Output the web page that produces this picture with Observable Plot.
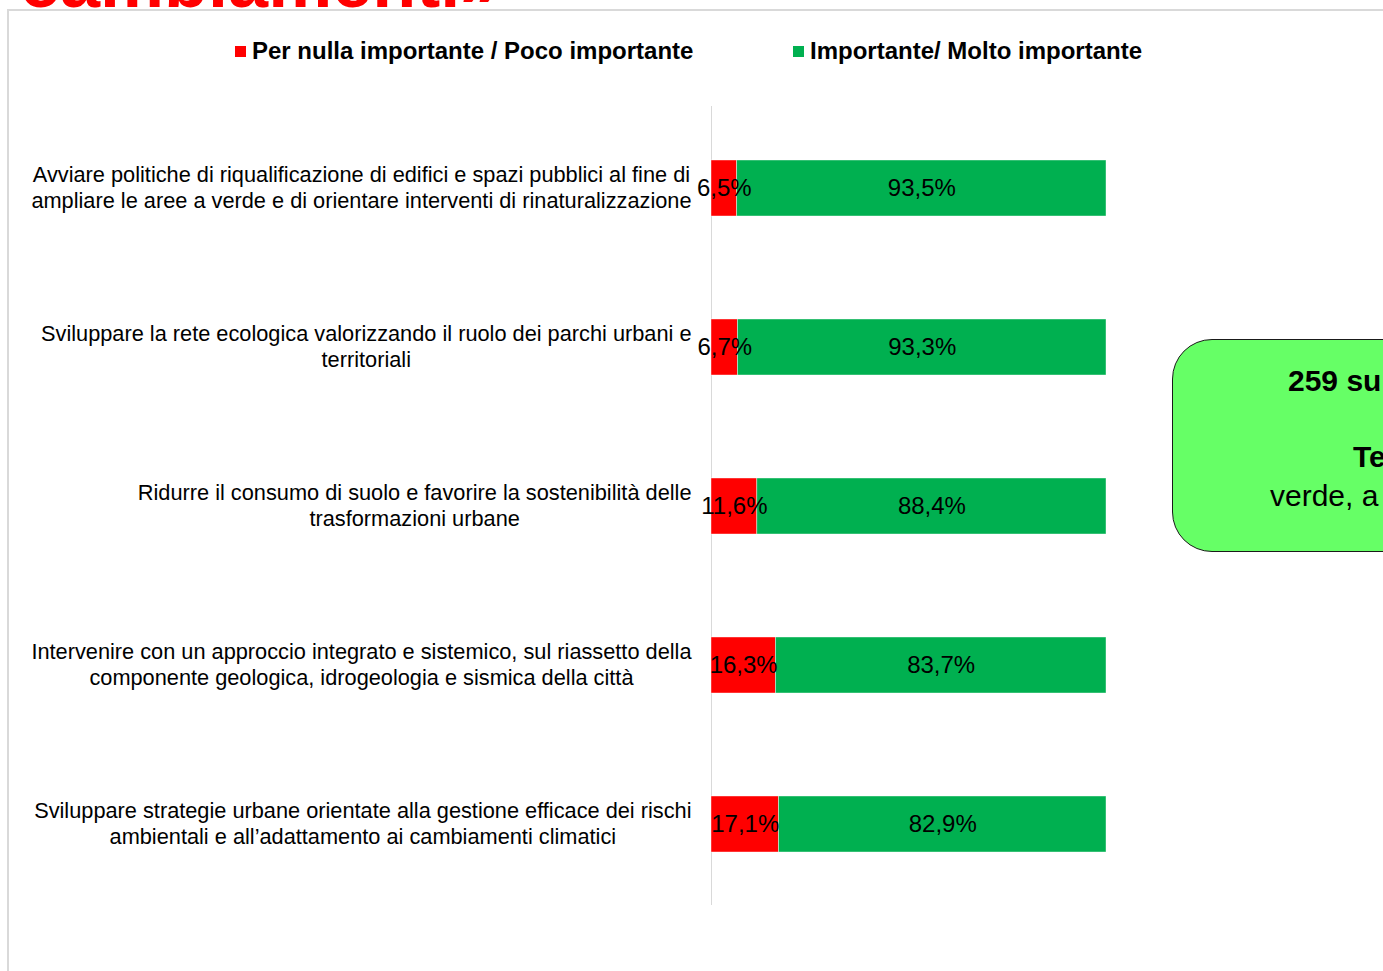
<!DOCTYPE html>
<html><head><meta charset="utf-8">
<script src="https://cdn.jsdelivr.net/npm/d3@7"></script>
<script src="https://cdn.jsdelivr.net/npm/@observablehq/plot@0.6"></script>
<style>
html,body{margin:0;padding:0;background:#fff;}
body{width:1383px;height:971px;overflow:hidden;position:relative;font-family:"Liberation Sans",Arial,sans-serif;}
#frame{position:absolute;left:7px;top:9px;width:2000px;height:2000px;border-left:2px solid #d9d9d9;border-top:2px solid #d9d9d9;}
#title{position:absolute;left:20px;top:-54px;font:bold 72px/72px "Liberation Sans",Arial,sans-serif;color:#ff0000;white-space:nowrap;}
#chart{position:absolute;left:0;top:0;}
.leg{position:absolute;top:37px;font:bold 24px/28px "Liberation Sans",Arial,sans-serif;color:#000;white-space:nowrap;display:flex;align-items:center;}
.sw{width:11px;height:11px;margin-right:6px;display:inline-block;}
#box{position:absolute;left:1172px;top:339px;width:500px;height:211px;background:#66ff66;border:1.5px solid #1a1a1a;border-radius:40px;}
.bt{position:absolute;font:30px/30px "Liberation Sans",Arial,sans-serif;white-space:nowrap;color:#000;}
</style>
</head><body>
<div id="frame"></div>
<div id="title">cambiamenti»</div>
<div id="chart"></div>
<div id="legend"></div>
<div id="box"></div>
<div class="bt" style="left:1288px;top:366px;font-weight:bold;">259 su 260 intervistati</div>
<div class="bt" style="left:1353px;top:442px;font-weight:bold;">Tema prioritario</div>
<div class="bt" style="left:1270px;top:481px;">verde, a tutela del territorio</div>
<script>
const categories = [
  "Avviare politiche di riqualificazione di edifici e spazi pubblici al fine di\nampliare le aree a verde e di orientare interventi di rinaturalizzazione",
  "Sviluppare la rete ecologica valorizzando il ruolo dei parchi urbani e\nterritoriali",
  "Ridurre il consumo di suolo e favorire la sostenibilità delle\ntrasformazioni urbane",
  "Intervenire con un approccio integrato e sistemico, sul riassetto della\ncomponente geologica, idrogeologia e sismica della città",
  "Sviluppare strategie urbane orientate alla gestione efficace dei rischi\nambientali e all’adattamento ai cambiamenti climatici"
];
const seriesNames = ["Per nulla importante / Poco importante", "Importante/ Molto importante"];
const lowValues = [6.5, 6.7, 11.6, 16.3, 17.1];
const highValues = [93.5, 93.3, 88.4, 83.7, 82.9];
const seriesColors = ["#ff0000", "#00b050"];

const rows = categories.flatMap((c, i) => [
  {cat: c, series: seriesNames[0], value: lowValues[i]},
  {cat: c, series: seriesNames[1], value: highValues[i]}
]);
const fmt = v => v.toFixed(1).replace(".", ",") + "%";

const LABEL_SIZE = 21.75;
// measure label lines
const ns = "http://www.w3.org/2000/svg";
const msvg = document.createElementNS(ns, "svg");
msvg.setAttribute("width", 10); msvg.setAttribute("height", 10);
msvg.style.position = "absolute"; msvg.style.visibility = "hidden";
document.body.appendChild(msvg);
function measure(line) {
  const t = document.createElementNS(ns, "text");
  t.setAttribute("font-family", "Liberation Sans, Arial, sans-serif");
  t.setAttribute("font-size", LABEL_SIZE);
  t.textContent = line;
  msvg.appendChild(t);
  const w = t.getComputedTextLength();
  msvg.removeChild(t);
  return w;
}

const labelMarks = categories.map(c => {
  const w = Math.max(...c.split("\n").map(measure));
  return Plot.text([c], {
    y: d => d, text: d => d, frameAnchor: "left", textAnchor: "middle",
    dx: -(20 + w / 2), dy: -2, lineHeight: 1.18, fontSize: LABEL_SIZE, fill: "#000", ariaLabel: "ylabel"
  });
});

const chart = Plot.plot({
  width: 1383, height: 971,
  marginLeft: 711, marginRight: 277, marginTop: 106, marginBottom: 66,
  x: {domain: [0, 100], axis: null},
  y: {domain: categories, axis: null, paddingInner: 0.65, paddingOuter: 0.325},
  color: {domain: seriesNames, range: seriesColors},
  style: {fontFamily: "Liberation Sans, Arial, sans-serif", background: "transparent", overflow: "visible"},
  marks: [
    Plot.ruleX([0], {stroke: "#d9d9d9", strokeWidth: 1}),
    Plot.barX(rows, Plot.stackX({x: "value", y: "cat", z: "series", fill: "series", stroke: "#ffffff", strokeWidth: 0.7, strokeOpacity: 0.6})),
    Plot.text(rows, Plot.stackX({x: "value", y: "cat", z: "series", text: d => fmt(d.value), fontSize: 24, fill: "#000"})),
    ...labelMarks
  ]
});
document.getElementById("chart").appendChild(chart);

// legend
const leg = document.getElementById("legend");
const legLeft = [235, 793];
seriesNames.forEach((s, i) => {
  const d = document.createElement("div");
  d.className = "leg";
  d.style.left = legLeft[i] + "px";
  const sw = document.createElement("span");
  sw.className = "sw"; sw.style.background = seriesColors[i];
  d.appendChild(sw);
  d.appendChild(document.createTextNode(s));
  leg.appendChild(d);
});
</script>
</body></html>
